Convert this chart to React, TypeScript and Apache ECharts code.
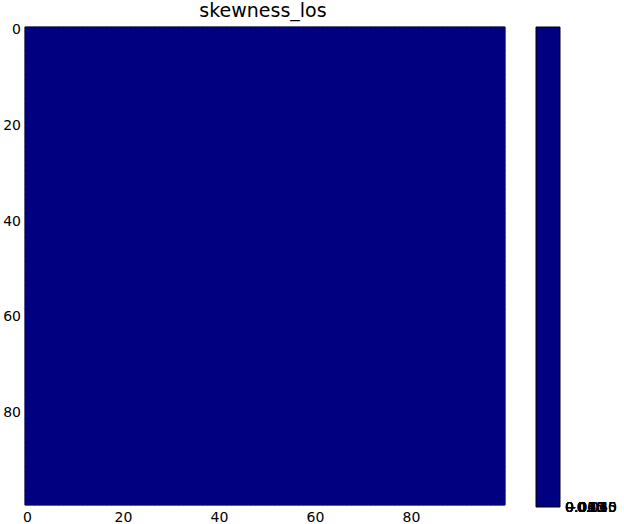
import React, { useEffect, useRef } from "react";
import * as echarts from "echarts";

const titleText = "skewness_los";
const gridSize = 100;
const fieldValue = 0;
const axisTicks = [0, 20, 40, 60, 80];
const colorbarLabels = ["\u22120.060", "\u22120.045", "\u22120.030", "\u22120.015", "0.000", "0.015", "0.030", "0.045", "0.060"];
const navy = "#000080";

export default function App() {
  const ref = useRef<HTMLDivElement>(null);
  useEffect(() => {
    if (!ref.current) return;
    const chart = echarts.init(ref.current, undefined, { renderer: "svg" });
    const cats = Array.from({ length: gridSize }, (_, i) => String(i));
    const data: [number, number, number][] = [];
    for (let y = 0; y < gridSize; y++)
      for (let x = 0; x < gridSize; x++) data.push([x, y, fieldValue]);
    const labelFn = (v: string) => (axisTicks.includes(Number(v)) ? v : "");
    const font = { fontFamily: "DejaVu Sans", fontSize: 14, color: "#000" };
    chart.setOption({
      animation: false,
      title: {
        text: titleText,
        left: 263,
        top: 0,
        padding: 0,
        textAlign: "center",
        textStyle: { fontFamily: "DejaVu Sans", fontSize: 19, fontWeight: "normal", color: "#000" },
      },
      grid: { left: 25, top: 27, width: 480, height: 480, show: true, borderColor: "#000", borderWidth: 1, backgroundColor: navy },
      xAxis: {
        type: "category",
        data: cats,
        position: "bottom",
        axisLine: { show: false },
        axisTick: { show: false },
        splitLine: { show: false },
        axisLabel: { ...font, interval: 0, formatter: labelFn, margin: 5 },
      },
      yAxis: {
        type: "category",
        data: cats,
        inverse: true,
        axisLine: { show: false },
        axisTick: { show: false },
        splitLine: { show: false },
        axisLabel: { ...font, interval: 0, formatter: labelFn, margin: 4 },
      },
      visualMap: { show: false, min: -1, max: 1, inRange: { color: [navy, navy] } },
      series: [
        {
          type: "heatmap",
          data,
          itemStyle: { borderWidth: 0 },
          progressive: 0,
          emphasis: { disabled: true },
          z: 1,
        },
      ],
      graphic: [
        { type: "rect", shape: { x: 536, y: 27, width: 24, height: 480 }, style: { fill: navy, stroke: "#000", lineWidth: 1 } },
        ...colorbarLabels.map((t) => ({
          type: "text",
          x: 565,
          y: 507,
          style: { text: t, fontFamily: "DejaVu Sans", fontSize: 14, fill: "#000", textVerticalAlign: "middle" },
        })),
      ],
    });
    return () => chart.dispose();
  }, []);
  return <div ref={ref} style={{ position: "absolute", left: 0, top: 0, width: 624, height: 524 }} />;
}
